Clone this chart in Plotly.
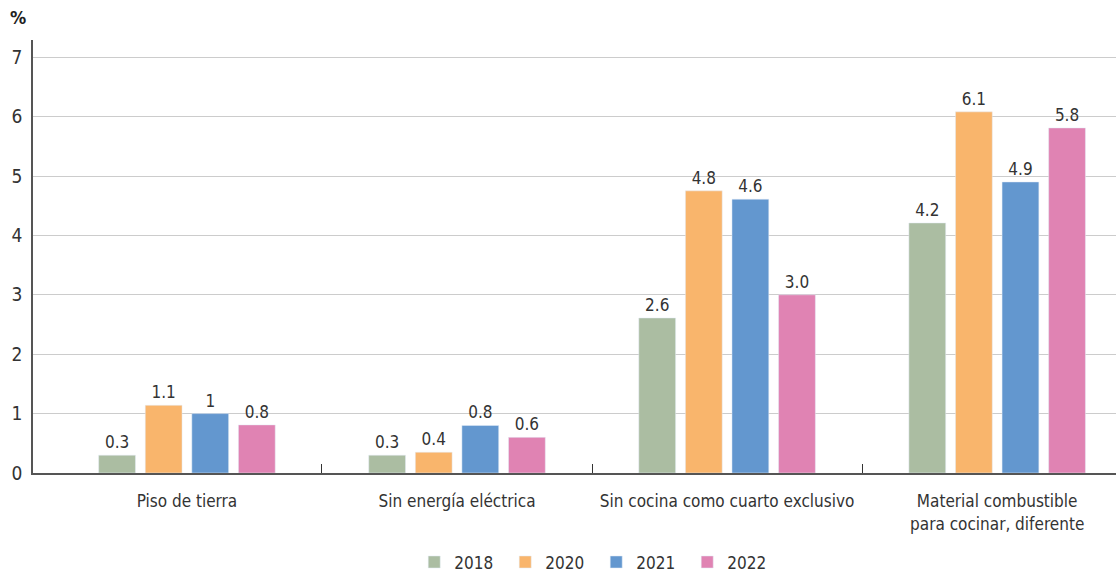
import plotly.graph_objects as go

categories = [
    "Piso de tierra",
    "Sin energía eléctrica",
    "Sin cocina como cuarto exclusivo",
    "Material combustible<br>para cocinar, diferente",
]
years = ["2018", "2020", "2021", "2022"]

values_2018 = [0.30, 0.30, 2.61, 4.21]
values_2020 = [1.14, 0.35, 4.75, 6.08]
values_2021 = [1.00, 0.80, 4.61, 4.90]
values_2022 = [0.81, 0.60, 3.00, 5.81]

labels_2018 = ["0.3", "0.3", "2.6", "4.2"]
labels_2020 = ["1.1", "0.4", "4.8", "6.1"]
labels_2021 = ["1", "0.8", "4.6", "4.9"]
labels_2022 = ["0.8", "0.6", "3.0", "5.8"]

y_ticks = [0, 1, 2, 3, 4, 5, 6, 7]

series = [
    (years[0], values_2018, labels_2018, "#ABBDA2"),
    (years[1], values_2020, labels_2020, "#F9B56C"),
    (years[2], values_2021, labels_2021, "#6397CF"),
    (years[3], values_2022, labels_2022, "#E083B3"),
]

FONT = "DejaVu Sans Condensed, Roboto, sans-serif"
x_pos = list(range(len(categories)))

fig = go.Figure()
for name, vals, labels, color in series:
    fig.add_trace(
        go.Bar(
            x=x_pos,
            y=vals,
            name=name,
            marker_color=color,
            text=labels,
            textposition="outside",
            cliponaxis=False,
            textfont={"size": 17, "color": "#333333", "family": FONT},
        )
    )

fig.update_layout(
    barmode="group",
    bargap=0.31,
    bargroupgap=0.21,
    width=1116,
    height=572,
    paper_bgcolor="white",
    plot_bgcolor="white",
    font={"family": FONT, "size": 17, "color": "#333333"},
    margin={"l": 33, "r": 0, "t": 40, "b": 99, "autoexpand": False},
    showlegend=True,
    legend={
        "orientation": "h",
        "x": 0.352,
        "xanchor": "left",
        "y": -0.165,
        "yanchor": "top",
        "font": {"size": 17},
        "entrywidth": 46,
        "entrywidthmode": "pixels",
        "traceorder": "normal",
    },
    annotations=[
        {
            "text": "<b>%</b>",
            "x": -0.0139,
            "y": 1.051,
            "xref": "paper",
            "yref": "paper",
            "showarrow": False,
            "xanchor": "center",
            "yanchor": "middle",
            "font": {"size": 18, "color": "#222222"},
        }
    ],
)

fig.update_xaxes(
    range=[-0.57, 3.44],
    tickvals=x_pos,
    ticktext=categories,
    ticks="",
    automargin=False,
    showgrid=False,
    showline=True,
    linecolor="#555555",
    linewidth=2,
    ticklabelstandoff=12,
    tickfont={"size": 17},
    minor={
        "tickvals": [0.5, 1.5, 2.5],
        "ticks": "inside",
        "ticklen": 9,
        "tickcolor": "#333333",
        "tickwidth": 1,
        "showgrid": False,
    },
)
fig.update_yaxes(
    range=[0, 7.29],
    tickvals=y_ticks,
    automargin=False,
    showgrid=True,
    gridcolor="#CCCCCC",
    gridwidth=1,
    showline=True,
    linecolor="#555555",
    linewidth=1.5,
    zeroline=False,
    ticks="",
    ticklabelstandoff=5,
    tickfont={"size": 19},
)

# the page body has a default 8px margin; drop it so the figure sits at 0,0
fig.write_html(
    "out.html",
    config={"displayModeBar": False},
    post_script="document.body.style.margin = '0';",
)
